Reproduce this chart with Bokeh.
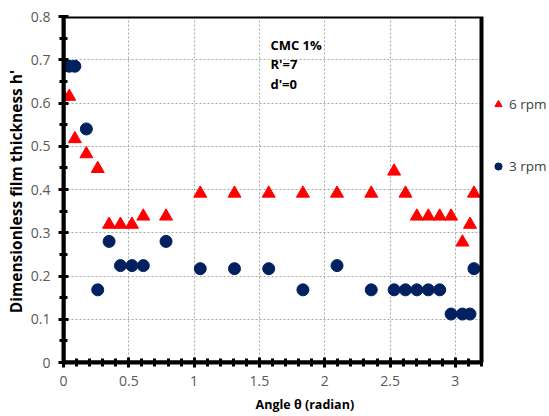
from bokeh.plotting import figure
from bokeh.models import (Legend, LegendItem, Label, Range1d, FixedTicker,
                          CustomJSTickFormatter, BoxAnnotation)
from bokeh.embed import file_html
from bokeh.resources import INLINE

# Data (angle in radian, dimensionless film thickness)
theta_6 = [0, 0.044, 0.087, 0.175, 0.262, 0.349, 0.436, 0.524, 0.611, 0.785,
           1.047, 1.309, 1.571, 1.833, 2.094, 2.356, 2.531, 2.618, 2.705, 2.793,
           2.880, 2.967, 3.054, 3.112, 3.142]
h_6 = [0.615, 0.615, 0.517, 0.482, 0.448, 0.319, 0.319, 0.319, 0.338, 0.338,
       0.391, 0.391, 0.391, 0.391, 0.391, 0.391, 0.442, 0.391, 0.338, 0.338,
       0.338, 0.338, 0.278, 0.319, 0.391]
theta_3 = [0, 0.044, 0.087, 0.175, 0.262, 0.349, 0.436, 0.524, 0.611, 0.785,
           1.047, 1.309, 1.571, 1.833, 2.094, 2.356, 2.531, 2.618, 2.705, 2.793,
           2.880, 2.967, 3.054, 3.112, 3.142]
h_3 = [0.685, 0.685, 0.685, 0.540, 0.168, 0.280, 0.224, 0.224, 0.224, 0.280,
       0.217, 0.217, 0.217, 0.168, 0.224, 0.168, 0.168, 0.168, 0.168, 0.168,
       0.168, 0.112, 0.112, 0.112, 0.217]
x_ticks = [0, 0.5, 1, 1.5, 2, 2.5, 3]
y_ticks = [0, 0.1, 0.2, 0.3, 0.4, 0.5, 0.6, 0.7, 0.8]
series_names = ["6 rpm", "3 rpm"]
annotation_lines = ["CMC 1%", "R'=7", "d'=0"]

X_MIN, X_MAX = 0, 3.2
Y_MIN, Y_MAX = 0, 0.8
FONT = "Open Sans"

W, H = 549, 416
LEFT, RIGHT_PLOT, TOP, BOTTOM = 63, 481, 16, 54
# the frame extends to the right edge so the legend can sit beside the plot area
x_end = X_MAX * (W - LEFT) / (RIGHT_PLOT - LEFT)

p = figure(width=W, height=H, output_backend="svg", toolbar_location=None,
           x_range=Range1d(X_MIN, x_end), y_range=Range1d(Y_MIN, Y_MAX),
           min_border_left=LEFT, min_border_right=0, min_border_top=TOP,
           min_border_bottom=BOTTOM)

p.outline_line_color = None
p.background_fill_color = "white"
p.border_fill_color = "white"

p.xaxis.ticker = FixedTicker(ticks=x_ticks, minor_ticks=[i / 10 for i in range(0, 33)])
p.yaxis.ticker = FixedTicker(ticks=y_ticks, minor_ticks=[i / 20 for i in range(0, 17)])
p.xaxis.bounds = (X_MIN, X_MAX)
fmt = CustomJSTickFormatter(code="return String(Math.round(tick*10)/10);")
p.xaxis.formatter = fmt
p.yaxis.formatter = fmt

for ax in (p.xaxis, p.yaxis):
    ax.axis_line_color = "black"
    ax.axis_line_width = 4
    ax.major_tick_line_color = "black"
    ax.major_tick_line_width = 3
    ax.major_tick_in = 5
    ax.major_tick_out = 5
    ax.minor_tick_line_color = "black"
    ax.minor_tick_line_width = 3
    ax.minor_tick_in = 4
    ax.minor_tick_out = 4
    ax.major_label_text_font = FONT
    ax.major_label_text_font_size = "14px"
    ax.major_label_text_color = "#595959"
    ax.axis_label_text_font = FONT
    ax.axis_label_text_font_style = "bold"
    ax.axis_label_text_color = "black"

p.xaxis.axis_label_text_font_size = "12.5px"
p.yaxis.axis_label_text_font_size = "15.5px"
p.xaxis.axis_label = "Angle  \u03b8 (radian)"
p.yaxis.axis_label = "Dimensionless film thickness  h'"
p.xaxis.major_label_standoff = 8
p.yaxis.major_label_standoff = 8
p.xaxis.axis_label_standoff = 7
p.yaxis.axis_label_standoff = 1

p.grid.grid_line_color = "#a6a6a6"
p.grid.grid_line_dash = "2 2"
p.grid.grid_line_width = 1

# blank out the area to the right of the plot area (legend zone)
p.add_layout(BoxAnnotation(left=X_MAX, fill_color="white", fill_alpha=1,
                           line_alpha=0, level="glyph"))
# plot-area border
p.add_layout(BoxAnnotation(left=X_MIN, right=X_MAX, bottom=Y_MIN, top=Y_MAX,
                           fill_alpha=0, line_color="black", line_alpha=1, line_width=4))

r6 = p.scatter(theta_6, h_6, marker="triangle", size=13, fill_color="#ff0000", line_color="#ff0000")
r3 = p.scatter(theta_3, h_3, marker="circle", size=12, fill_color="#002060", line_color="#002060")

legend = Legend(items=[LegendItem(label=series_names[0], renderers=[r6]),
                       LegendItem(label=series_names[1], renderers=[r3])],
                location=(426, 187), orientation="vertical",
                background_fill_alpha=0, border_line_alpha=0,
                padding=0, margin=0, spacing=44,
                glyph_width=18, glyph_height=18, label_height=18, label_standoff=2,
                label_text_font=FONT, label_text_font_size="13.5px", label_text_color="#404040")
p.add_layout(legend)

for i, txt in enumerate(annotation_lines):
    p.add_layout(Label(x=1.584, y=0.735 - i * 0.045, text=txt, text_font=FONT,
                       text_font_size="13px", text_font_style="bold", text_color="black",
                       text_baseline="middle", text_align="left"))

open("out.html", "w").write(file_html(p, INLINE))
